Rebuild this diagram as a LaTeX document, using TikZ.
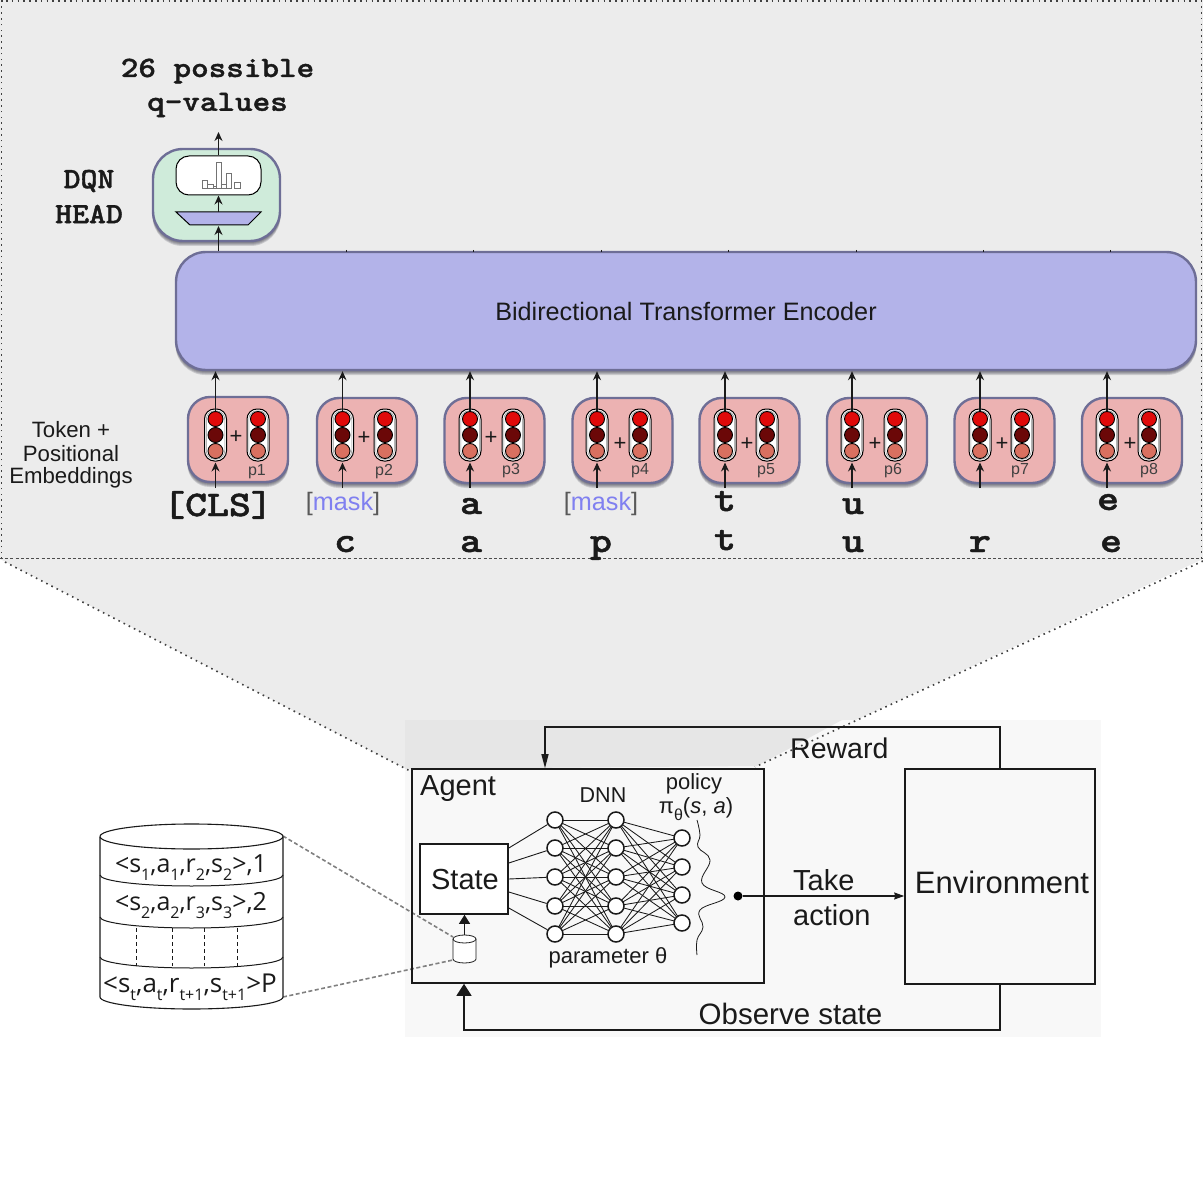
\documentclass[tikz,border=0pt]{standalone}
\usepackage{fontspec}
\usetikzlibrary{arrows.meta,calc}
\newfontfamily\hv{Liberation Sans}
\newfontfamily\os{Open Sans}
\newfontfamily\lmb[Extension=.otf,FakeBold=1.2]{lmmonolt10-bold}
\definecolor{panel}{HTML}{ECECEC}
\definecolor{imgbg}{HTML}{F8F8F8}
\definecolor{imgband}{HTML}{E6E6E6}
\definecolor{edge}{HTML}{6E6E96}
\definecolor{lav}{HTML}{B3B3E9}
\definecolor{mint}{HTML}{CFEBDA}
\definecolor{rose}{HTML}{ECB2B2}
\definecolor{cred}{HTML}{E00A0A}
\definecolor{cdark}{HTML}{6B0808}
\definecolor{csal}{HTML}{D97060}
\definecolor{maskc}{HTML}{8080F0}
\definecolor{ink}{HTML}{1A1A1A}
\newcommand{\mono}[1]{\lmb\fontsize{#1}{#1}\selectfont}
\newcommand{\sans}[1]{\hv\fontsize{#1}{#1}\selectfont}
\newcommand{\lo}[1]{\raisebox{-.32em}{\fontsize{16}{16}\selectfont #1}}
% soft shadow under a rounded box: x0,y0,x1,y1,radius
\newcommand{\softshade}[5]{%
  \foreach \d in {1,2,3,4,5}{
    \fill[black!60!edge,opacity=.17,rounded corners=#5] (#1-.5,#2+\d) rectangle (#3+.5,#4+\d);
  }}
\tikzset{
  roundbox/.style={draw=edge,line width=2.4pt,rounded corners=#1,inner sep=0pt},
  pill/.style={draw=black,line width=1pt,fill=white,rounded corners=10pt,minimum width=22pt,minimum height=52pt,inner sep=0pt},
  dot/.style={circle,draw=black,line width=.9pt,minimum size=15pt,inner sep=0pt},
  up/.style={-{Stealth[length=9pt,width=8pt,inset=3pt]},line width=1.4pt,color=ink},
  lbl/.style={inner sep=0pt,align=center,text=ink},
  neuron/.style={circle,draw=ink,line width=1.5pt,fill=white,minimum size=16pt,inner sep=0pt},
  wire/.style={line width=.85pt,color=ink},
  frame/.style={draw=ink,line width=1.6pt,inner sep=0pt},
  link/.style={line width=1.3pt,color=ink},
  grayd/.style={line width=1.6pt,color=black!50,dash pattern=on 4pt off 2.5pt},
  dots/.style={line width=1.6pt,color=black!75,dash pattern=on 1.6pt off 4.2pt},
  bar/.style={draw=black!55,line width=.7pt,fill=white}
}
\begin{document}
\begin{tikzpicture}[x=1pt,y=-1pt]
\useasboundingbox (0,0) rectangle (1203,1201);
\fill[white] (0,0) rectangle (1203,1201);
% panel and funnel
\fill[panel] (0,0) -- (1203,0) -- (1203,559) -- (757,766) -- (412,772) -- (0,559) -- cycle;
\fill[imgbg] (405,720) rectangle (1101,1037);
\fill[imgband] (405,720) -- (842,720) -- (757,766) -- (405,769) -- cycle;
\draw[dots] (1.5,559) -- (1.5,1) -- (1201.5,1) -- (1201.5,559);
\draw[line width=1.2pt,color=black!70,dash pattern=on 3pt off 2.2pt] (0,558.5) -- (1203,558.5);
\draw[dots] (5,562) -- (412,772);
\draw[dots] (1203,561) -- (755,767);

% encoder
\softshade{176}{252}{1196}{370}{30pt}
\node[roundbox=30pt,fill=lav,minimum width=1020pt,minimum height=118pt] (enc) at (686,311) {};
\node[lbl] (enctext) at (686,311.5) {\sans{25.2}Bidirectional Transformer Encoder};
\foreach \x in {346,473,601,728,856,983,1110}{
  \draw[line width=1pt,color=ink] (\x,250) -- (\x,252);
}
% DQN head
\softshade{153}{149}{280}{241}{30pt}
\node[roundbox=30pt,fill=mint,minimum width=127pt,minimum height=92pt] (head) at (216.5,195) {};
\node[draw=black,line width=1pt,fill=white,rounded corners=13pt,minimum width=85pt,minimum height=39pt,inner sep=0pt] (hist) at (218.5,175.5) {};
\foreach \a/\b/\t in {202/207/180,207/213/184,213/216/186,216/221/162,221/226/184,226/231/173,234/240/182}{
  \draw[bar] (\a,\t) rectangle (\b,188.5);
}
\draw[line width=1pt,draw=black,fill=lav] (176,212) -- (261,212) -- (248,225) -- (190,225) -- cycle;
\coordinate (trapT) at (218.5,212);
\coordinate (trapB) at (218.5,226);
\coordinate (qout) at (218.5,132);
\draw[up] (enc.north -| trapB) -- (trapB);
\draw[up] (trapT) -- (hist.south -| trapT);
\draw[up] (hist.north -| qout) -- (qout);
\node[lbl] (qtxt1) at (217.5,71) {\mono{31}\scalebox{1.08}[.95]{26 possible}};
\node[lbl] (qtxt2) at (217.5,105) {\mono{31}\scalebox{1.08}[.95]{q-values}};
\node[lbl] (dqn1) at (89,181) {\mono{31}\scalebox{1.04}[.95]{DQN}};
\node[lbl] (dqn2) at (89,214) {\mono{31}\scalebox{1.04}[.95]{HEAD}};
\node[lbl] (tk1) at (71,430) {\sans{22.2}Token +};
\node[lbl] (tk2) at (71,454) {\sans{22.2}Positional};
\node[lbl] (tk3) at (71,478) {\sans{22.2}Embeddings};

% token blocks
\foreach \i/\L/\T/\a/\b/\px/\py/\lx/\ly in {
  1/188/397/215.5/258/236/437/257/472,
  2/317/398/342.5/385/364/438/384/472,
  3/444.5/398/470/513/491/438/511/471,
  4/572.5/398/597/640/620/444/640/471,
  5/699.5/398/725/767/747/444/766/471,
  6/827/398/852/895/875/444/893/471,
  7/954.5/398/980/1022/1002/444/1020/471,
  8/1082/398/1107/1149/1130/444/1149/471}{
  \softshade{\L}{\T}{\L+100}{\T+85}{22pt}
  \node[roundbox=22pt,fill=rose,minimum width=100pt,minimum height=85pt] (box\i) at ({\L+50},{\T+42.5}) {};
  \foreach \c/\n in {\a/A,\b/B}{
    \node[pill] (pill\n\i) at (\c,435) {};
    \node[draw=black!45,line width=.5pt,rounded corners=8.5pt,minimum width=18.5pt,minimum height=48.5pt,inner sep=0pt] (ring\n\i) at (\c,435) {};
    \node[dot,fill=cred] (c1\n\i) at (\c,419) {};
    \node[dot,fill=cdark] (c2\n\i) at (\c,435) {};
    \node[dot,fill=csal] (c3\n\i) at (\c,451) {};
  }
  \node[lbl] (plus\i) at (\px,\py) {\sans{22}+};
  \node[lbl] (pos\i) at (\lx,\ly) {\sans{16}\textcolor{black!75}{p\i}};
  \coordinate (in\i) at (\a,488);
  \draw[up] (c1A\i.north) -- (c1A\i.north |- enc.south);
  \draw[up] (in\i) -- ($(pillA\i.south)+(0,1)$);
}
% tokens
\node[lbl] (cls) at (218,505) {\mono{38}\scalebox{1.1}[.95]{[CLS]}};
\node[lbl] (m1) at (343,504) {\sans{25.2}\textcolor{black!65}{[}\textcolor{maskc}{mask}\textcolor{black!65}{]}};
\node[lbl] (m2) at (601,504) {\sans{25.2}\textcolor{black!65}{[}\textcolor{maskc}{mask}\textcolor{black!65}{]}};
\foreach \n/\x/\y/\s in {ta/471/505/a,tt/725/502/t,tu/853/505/u,te/1108/501/e,bc/345/543/c,ba/471/543/a,bp/601/543/p,bt/725/541/t,bu/853/543/u,br/980/543/r,be/1111/543/e}{
  \node[lbl,anchor=base] (\n) at (\x,{\y+9}) {\mono{38}\scalebox{1.1}[.95]{\s}};
}

% agent diagram
\draw[grayd] (283,836) -- (453,937);
\draw[grayd] (283,997) -- (453,960);
\node[frame,minimum width=352pt,minimum height=214pt] (agent) at (588,876) {};
\node[frame,minimum width=190pt,minimum height=215pt] (env) at (1000,876.5) {};
\node[frame,fill=white,minimum width=88pt,minimum height=70pt] (state) at (464,879) {};
\node[lbl,anchor=west] (agtxt) at (420,789) {\sans{29}Agent};
\node[lbl] (sttxt) at (465,880) {\sans{29}State};
\node[lbl] (envtxt) at (1002,882) {\sans{31}Environment};
\node[lbl] (dnn) at (603,795) {\sans{21.5}DNN};
\node[lbl] (pol) at (694,784) {\sans{22}policy};
\node[lbl] (pi) at (696,809) {\sans{22}π\lo{θ}(\textit{s}, \textit{a})};
\node[lbl] (param) at (608,958) {\sans{22}parameter θ};
\node[lbl,anchor=west] (rew) at (790,748) {\sans{28.5}Reward};
\node[lbl,anchor=west] (take) at (793,880) {\sans{29}Take};
\node[lbl,anchor=west] (act) at (793,915) {\sans{29}action};
\node[lbl] (obs) at (790.5,1014) {\sans{29.5}Observe state};
% network
\foreach \i/\y in {1/820,2/848,3/877,4/906,5/934}{
  \coordinate (nn\i) at (555,\y);
  \coordinate (mm\i) at (616,\y);
}
\foreach \i/\y in {1/838,2/867,3/895,4/923}{
  \coordinate (oo\i) at (682,\y);
}
\foreach \i in {1,...,5}{
  \foreach \j in {1,...,5}{ \draw[wire] (nn\i) -- (mm\j); }
  \foreach \j in {1,...,4}{ \draw[wire] (mm\i) -- (oo\j); }
}
\foreach \i in {1,...,5}{
  \node[neuron] (n\i) at (nn\i) {};
  \node[neuron] (m\i) at (mm\i) {};
}
\foreach \i in {1,...,4}{
  \node[neuron] (o\i) at (oo\i) {};
}
\foreach \i/\y in {1/848,2/863,3/879,4/892,5/908}{
  \coordinate (s\i) at (state.east |- 0,\y);
  \draw[line width=.9pt,color=ink] (s\i) -- (n\i);
}
\draw[line width=.8pt,color=ink] plot[smooth,tension=.7] coordinates {(697,820) (700,835) (698,847) (710,860) (702,883) (725,897) (700,910) (703,927) (697,940) (697,955)};
\node[circle,fill=black,minimum size=9pt,inner sep=0pt] (pdot) at (738,896) {};
\draw[link,-{Stealth[length=10pt,width=7pt,inset=1pt]}] (pdot) -- (pdot -| env.west);
\coordinate (rtop) at (1000,727);
\coordinate (ltop) at (545,727);
\draw[link,-{Stealth[length=14pt,width=7pt,inset=0pt]}] (env.north -| rtop) -- (rtop) -- (ltop) -- (agent.north -| ltop);
\coordinate (rbot) at (1000,1030);
\coordinate (lbot) at (464,1030);
\draw[link,-{Stealth[length=12pt,width=15pt,inset=0pt]}] (env.south -| rbot) -- (rbot) -- (lbot) -- (agent.south -| lbot);
% small cylinder
\draw[line width=.8pt,color=ink,fill=white] (453,939) -- (453,959) arc[start angle=180,end angle=0,x radius=11.5,y radius=4] -- (476,939);
\draw[line width=.8pt,color=ink,fill=white] (464.5,939) ellipse[x radius=11.5,y radius=4];
\coordinate (dbtop) at (464.5,935);
\draw[link,-{Stealth[length=9pt,width=11pt,inset=0pt]}] (dbtop) -- (state.south -| dbtop);
% large cylinder
\draw[line width=1.1pt,color=ink,fill=white] (100,837) -- (100,997) arc[start angle=180,end angle=0,x radius=91.5,y radius=12] -- (283,837);
\draw[line width=1.1pt,color=ink] (191.5,836.5) ellipse[x radius=91.5,y radius=12.5];
\foreach \y in {875,917,957}{
  \draw[line width=1pt,color=ink] (100,\y) arc[start angle=180,end angle=0,x radius=91.5,y radius=11];
}
\foreach \x in {136,172,204,237}{
  \draw[line width=.9pt,color=ink,dash pattern=on 4pt off 3pt] (\x,928) -- (\x,966);
}
\node[lbl] (r1) at (191,868) {\os\fontsize{25}{25}\selectfont <s\lo{1},a\lo{1},r\lo{2},s\lo{2}>,1};
\node[lbl] (r2) at (191,906) {\os\fontsize{25}{25}\selectfont <s\lo{2},a\lo{2},r\lo{3},s\lo{3}>,2};
\node[lbl] (r3) at (190,987) {\os\fontsize{26}{26}\selectfont <s\lo{t},a\lo{t},r\lo{t+1},s\lo{t+1}>P};
\end{tikzpicture}
\end{document}
